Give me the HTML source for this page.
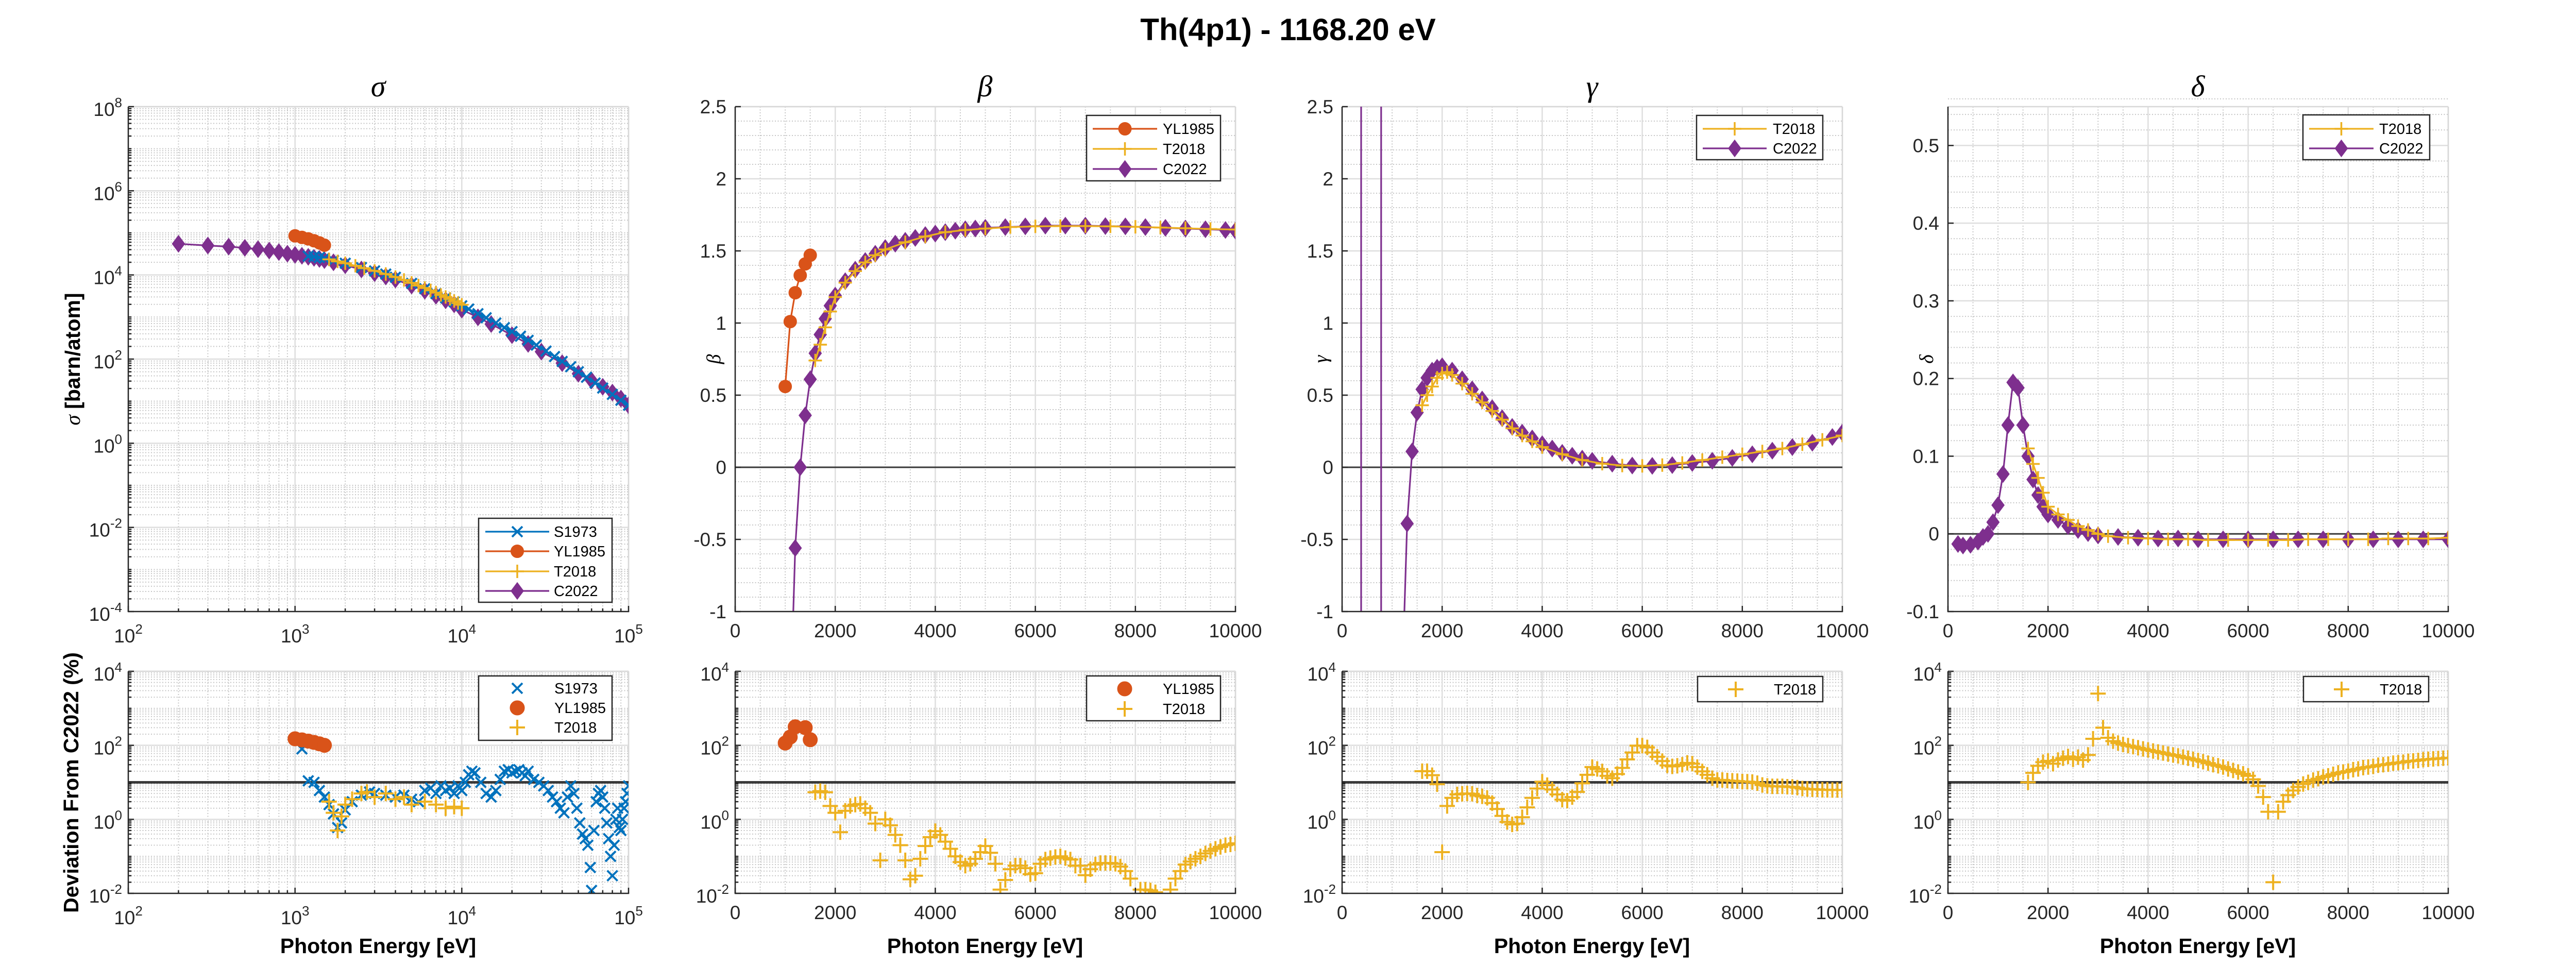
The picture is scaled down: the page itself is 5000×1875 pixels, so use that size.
<!DOCTYPE html>
<html>
<head>
<meta charset="utf-8">
<title>Th(4p1) - 1168.20 eV</title>
<style>
html,body{margin:0;padding:0;background:#fff;width:5000px;height:1875px;overflow:hidden;}
svg{display:block;font-family:"Liberation Sans",Arial,sans-serif;overflow:hidden;}
</style>
</head>
<body>
<svg id="chart" xmlns="http://www.w3.org/2000/svg" width="5000" height="1875" viewBox="0 0 5000 1875">
<rect x="0" y="0" width="5000" height="1875" fill="#ffffff"/>
<defs id="defs"></defs>
<text x="2500" y="78" text-anchor="middle" font-size="60" font-weight="bold" fill="#000">Th(4p1) - 1168.20 eV</text>
<text x="734" y="187" text-anchor="middle" font-size="58" font-style="italic" font-family="Liberation Serif, serif" fill="#000">σ</text>
<text x="1912" y="187" text-anchor="middle" font-size="58" font-style="italic" font-family="Liberation Serif, serif" fill="#000">β</text>
<text x="3090" y="187" text-anchor="middle" font-size="58" font-style="italic" font-family="Liberation Serif, serif" fill="#000">γ</text>
<text x="4266" y="187" text-anchor="middle" font-size="58" font-style="italic" font-family="Liberation Serif, serif" fill="#000">δ</text>
<text transform="translate(155,697) rotate(-90)" text-anchor="middle" font-size="41" font-weight="bold" fill="#000"><tspan font-style="italic" font-weight="normal" font-family="Liberation Serif, serif">σ</tspan> [barn/atom]</text>
<text transform="translate(152,1519) rotate(-90)" text-anchor="middle" font-size="41" font-weight="bold" fill="#000">Deviation From C2022 (%)</text>
<text transform="translate(1398,697) rotate(-90)" text-anchor="middle" font-size="38" font-style="italic" font-family="Liberation Serif, serif" fill="#000">β</text>
<text transform="translate(2576,697) rotate(-90)" text-anchor="middle" font-size="38" font-style="italic" font-family="Liberation Serif, serif" fill="#000">γ</text>
<text transform="translate(3752,697) rotate(-90)" text-anchor="middle" font-size="38" font-style="italic" font-family="Liberation Serif, serif" fill="#000">δ</text>
<text x="734" y="1850" text-anchor="middle" font-size="41" font-weight="bold" fill="#000">Photon Energy [eV]</text>
<text x="1912" y="1850" text-anchor="middle" font-size="41" font-weight="bold" fill="#000">Photon Energy [eV]</text>
<text x="3090" y="1850" text-anchor="middle" font-size="41" font-weight="bold" fill="#000">Photon Energy [eV]</text>
<text x="4266" y="1850" text-anchor="middle" font-size="41" font-weight="bold" fill="#000">Photon Energy [eV]</text>
</svg>
<script>
// ---------------- DATA ----------------
const sigE_S1973 = [1200,1300,1400,1500,1700,2000,2500,3000,3500,4000,5000,6000,7000,8000,9000,10000,11000,12500,14000,16000,18000,20000,22500,25000,28000,32000,36000,40000,45000,50000,56000,63000,70000,80000,90000,100000];
const sigV_S1973 = [28000,27000,26000,25000,22000,19000,15000,12500,10500,8800,6300,4700,3600,2850,2300,1850,1550,1200,960,720,560,450,350,280,215,155,115,88,66,50,37,27,20.5,14.5,10.5,8];
const sigE_YL1985 = [1000,1100,1200,1300,1400,1500];
const sigV_YL1985 = [85000,78000,72000,65000,58000,51000];
const sigE_T2018 = [1600,1800,2000,2300,2600,3000,3500,4000,4500,5000,5500,6000,6500,7000,7500,8000,8500,9000,9500,10000];
const sigV_T2018 = [23500,21000,19000,16500,14500,12500,10500,8900,7600,6500,5600,4900,4300,3800,3350,3000,2700,2400,2150,1950];
const sigE_C2022 = [200,300,400,500,600,700,800,900,1000,1100,1200,1300,1400,1500,1700,2000,2500,3000,3500,4000,5000,6000,7000,8000,9000,10000,12500,15000,20000,25000,30000,40000,50000,60000,70000,80000,90000,100000];
const sigV_C2022 = [55000,50000,47000,44000,41000,38000,35000,32000,30000,28500,27000,25500,24000,22500,20000,17000,13500,11000,9200,7800,5600,4200,3200,2500,2000,1500,980,680,370,230,150,80,45,31,22,16,11.5,8];
const dsigE_S1973 = [1100,1200,1300,1400,1500,1600,1700,1800,1900,2000,2200,2500,2800,3000,3500,4000,4500,5000,5500,6000,6500,7000,7500,8000,8500,9000,9500,10000,10500,11000,11500,12000,13000,14000,15000,16000,17000,18000,19000,20000,21000,22000,23000,24000,25000,27000,29000,31000,33000,35000,37000,39000,41000,43000,45000,47000,49000,51000,53000,55000,57000,59000,60000,62000,64000,66000,68000,70000,72000,74000,76000,78000,80000,82000,84000,86000,88000,90000,92000,94000,96000,98000,100000];
const dsigV_S1973 = [80,11,10,6,4,2.5,1.4,0.6,0.8,1.8,3,4.5,5.5,5,4.5,4,4.5,3.5,3,6,7,5,8,6,7,5,8,6,10,16,20,18,10,5,4,6,12,20,22,18,20,22,18,15,20,12,10,8,6,4,3,2,1.5,4,8,5,2,0.8,0.4,0.3,0.2,0.05,0.012,0.5,3,5,6,4,2,0.8,0.3,0.1,0.03,0.2,1,2,0.6,0.5,1,2,3,5,8];
const dsigE_YL1985 = [1000,1100,1200,1300,1400,1500];
const dsigV_YL1985 = [150,140,130,120,110,100];
const dsigE_T2018 = [1600,1700,1800,1900,2000,2200,2500,2700,3000,3500,4000,4500,5000,6000,7000,8000,9000,10000];
const dsigV_T2018 = [3,1.5,0.5,1.2,2.5,3.5,5,5.5,4,5,3.5,4,2.5,3,2.5,2,2.2,2];
const betE_YL1985 = [1000,1100,1200,1300,1400,1500];
const betV_YL1985 = [0.56,1.01,1.21,1.33,1.41,1.47];
const betE_T2018 = [1600,1700,1800,1900,2000,2200,2400,2600,2800,3000,3400,3800,4200,4600,5000,5500,6000,6500,7000,7500,8000,8500,9000,9500,10000];
const betV_T2018 = [0.74,0.85,0.97,1.08,1.18,1.28,1.36,1.42,1.47,1.51,1.56,1.60,1.63,1.645,1.655,1.665,1.67,1.672,1.672,1.67,1.667,1.662,1.657,1.652,1.648];
const betE_C2022 = [1100,1200,1300,1400,1500,1600,1700,1800,1900,2000,2200,2400,2600,2800,3000,3200,3400,3600,3800,4000,4200,4400,4600,4800,5000,5400,5800,6200,6600,7000,7400,7800,8200,8600,9000,9400,9800,10000];
const betV_C2022 = [-1.7,-0.56,0,0.36,0.61,0.79,0.92,1.03,1.12,1.19,1.29,1.37,1.43,1.48,1.52,1.55,1.57,1.59,1.61,1.62,1.63,1.64,1.65,1.655,1.66,1.665,1.67,1.675,1.675,1.675,1.672,1.67,1.665,1.66,1.655,1.65,1.645,1.64];
const dbetE_YL1985 = [1000,1100,1200,1400,1500];
const dbetV_YL1985 = [115,167,316,300,142];
const dbetE_T2018 = [1600,1700,1800,1900,2000,2100,2200,2300,2400,2500,2600,2700,2800,2900,3000,3100,3200,3300,3400,3500,3600,3700,3800,3900,4000,4100,4200,4300,4400,4500,4600,4700,4800,4900,5000,5100,5200,5300,5400,5500,5600,5700,5800,5900,6000,6100,6200,6300,6400,6500,6600,6700,6800,6900,7000,7100,7200,7300,7400,7500,7600,7700,7800,7900,8100,8200,8300,8400,8700,8800,8900,9000,9100,9200,9300,9400,9500,9600,9700,9800,9900,10000];
const dbetV_T2018 = [5.4,5.8,5.4,2.3,1.5,0.45,1.7,2.3,2.5,2.6,2.0,1.5,0.77,0.078,1.0,0.69,0.38,0.2,0.078,0.024,0.03,0.086,0.19,0.33,0.48,0.38,0.25,0.16,0.1,0.07,0.056,0.063,0.086,0.13,0.19,0.125,0.063,0.0126,0.023,0.045,0.056,0.056,0.048,0.033,0.035,0.063,0.082,0.09,0.096,0.1,0.09,0.082,0.056,0.056,0.031,0.045,0.06,0.066,0.066,0.066,0.063,0.053,0.04,0.025,0.0126,0.0126,0.012,0.0107,0.0126,0.025,0.04,0.06,0.072,0.086,0.1,0.12,0.14,0.16,0.18,0.2,0.21,0.225];
const gamE_T2018 = [1600,1700,1800,1900,2000,2100,2200,2400,2600,2800,3000,3200,3400,3600,3800,4000,4400,4800,5200,5600,6000,6400,6800,7200,7600,8000,8400,8800,9200,9600,10000];
const gamV_T2018 = [0.43,0.50,0.56,0.62,0.65,0.66,0.64,0.58,0.51,0.45,0.39,0.33,0.27,0.22,0.18,0.14,0.09,0.05,0.025,0.012,0.01,0.015,0.03,0.05,0.07,0.09,0.11,0.13,0.16,0.19,0.22];
const gamE_C2022 = [380,381,780,781,1200,1300,1400,1500,1600,1700,1800,1900,2000,2200,2400,2600,2800,3000,3200,3400,3600,3800,4000,4200,4400,4600,4800,5000,5400,5800,6200,6600,7000,7400,7800,8200,8600,9000,9400,9800,10000];
const gamV_C2022 = [-100000,100000,100000,-100000,-1.5,-0.39,0.11,0.38,0.54,0.62,0.67,0.69,0.70,0.67,0.61,0.54,0.47,0.41,0.34,0.28,0.24,0.2,0.16,0.13,0.1,0.08,0.06,0.045,0.025,0.012,0.01,0.015,0.03,0.045,0.065,0.09,0.115,0.14,0.17,0.21,0.24];
const dgamE_T2018 = [1600,1700,1800,1900,2000,2100,2200,2300,2400,2500,2600,2700,2800,2900,3000,3100,3200,3300,3400,3500,3600,3700,3800,3900,4000,4100,4200,4300,4400,4500,4600,4700,4800,4900,5000,5100,5200,5300,5400,5500,5600,5700,5800,5900,6000,6100,6200,6300,6400,6500,6600,6700,6800,6900,7000,7100,7200,7300,7400,7500,7600,7700,7800,7900,8000,8100,8200,8300,8400,8500,8600,8700,8800,8900,9000,9100,9200,9300,9400,9500,9600,9700,9800,9900,10000];
const dgamV_T2018 = [20,20,15.6,8.9,0.13,2.3,3.8,4.7,4.9,5.0,4.9,4.4,4.2,3.8,2.75,1.9,1.24,0.85,0.73,0.77,1.14,2.1,3.8,6.8,10.4,8.4,6.4,4.7,3.4,3.2,4.0,5.5,9.4,16,25.8,23,19.8,15,13,16.8,24.5,41.7,64,98,98,88,64,49,37.5,28.7,27,28,30,33.6,32,25.8,19.8,16,12.9,11.6,11.6,11.2,11,10.8,10.5,10.4,10.2,9.5,8.5,8,7.8,7.8,7.8,7.6,7.5,7.2,6.8,6.6,6.5,6.4,6.3,6.25,6.2,6.2,6.2];
const delE_T2018 = [1600,1700,1800,1900,2000,2200,2400,2600,2800,3000,3200,3600,4000,4400,4800,5200,5600,6000,6400,6800,7200,7600,8000,8400,8800,9200,9600,10000];
const delV_T2018 = [0.11,0.09,0.072,0.053,0.035,0.025,0.018,0.01,0.005,0.0,-0.003,-0.005,-0.006,-0.007,-0.007,-0.008,-0.008,-0.008,-0.008,-0.008,-0.007,-0.007,-0.007,-0.007,-0.006,-0.006,-0.006,-0.005];
const delE_C2022 = [200,300,450,600,700,800,900,1000,1100,1200,1300,1400,1500,1600,1700,1800,1900,2000,2200,2400,2600,2800,3000,3400,3800,4200,4600,5000,5500,6000,6500,7000,7500,8000,8500,9000,9500,10000];
const delV_C2022 = [-0.013,-0.015,-0.014,-0.01,-0.004,0.0,0.015,0.037,0.077,0.14,0.195,0.188,0.14,0.10,0.07,0.05,0.035,0.025,0.018,0.01,0.005,0.001,-0.002,-0.004,-0.005,-0.006,-0.006,-0.007,-0.007,-0.007,-0.007,-0.007,-0.007,-0.007,-0.007,-0.007,-0.007,-0.007];
const ddelE_T2018 = [1600,1700,1800,1900,2000,2100,2200,2300,2400,2500,2600,2700,2800,2900,3000,3100,3200,3300,3400,3500,3600,3700,3800,3900,4000,4100,4200,4300,4400,4500,4600,4700,4800,4900,5000,5100,5200,5300,5400,5500,5600,5700,5800,5900,6000,6100,6200,6300,6400,6500,6600,6700,6800,6900,7000,7100,7200,7300,7400,7500,7600,7700,7800,7900,8000,8100,8200,8300,8400,8500,8600,8700,8800,8900,9000,9100,9200,9300,9400,9500,9600,9700,9800,9900,10000];
const ddelV_T2018 = [10,18,28,35,38,32,40,45,50,42,48,40,55,150,2500,300,160,130,115,105,98,92,86,80,75,70,66,62,58,55,52,48,45,42,39,36,33,30,28,26,23,21,19,17,15,12,8,4,1.6,0.02,1.6,3,4.5,6,7.5,9,10,11.5,12.5,14,15,16.5,18,19,20,22,23,25,26,27,29,30,31,33,34,35,37,38,39,41,42,43,44,45,46];
const logXTicks = [100,1000,10000,100000];
const logXTickExp = ['2','3','4','5'];
const sigYTicks = [1e-4,1e-2,1,1e2,1e4,1e6,1e8];
const sigYTickExp = ['-4','-2','0','2','4','6','8'];
const devYTicks = [1e-2,1,1e2,1e4];
const devYTickExp = ['-2','0','2','4'];
const linXTicks = [0,2000,4000,6000,8000,10000];
const linXTickLabels = ['0','2000','4000','6000','8000','10000'];
const bgYTicks = [-1,-0.5,0,0.5,1,1.5,2,2.5];
const bgYTickLabels = ['-1','-0.5','0','0.5','1','1.5','2','2.5'];
const dYTicks = [-0.1,0,0.1,0.2,0.3,0.4,0.5];
const dYTickLabels = ['-0.1','0','0.1','0.2','0.3','0.4','0.5'];

// ---------------- DRAWING ----------------
const NS = 'http://www.w3.org/2000/svg';
const svg = document.getElementById('chart');
const defs = document.getElementById('defs');
const COL = {S:'#0072BD', YL:'#D95319', T:'#EDB120', C:'#7E2F8E'};
const AX = '#262626', GMAJ = '#dedede', GMIN = '#c4c4c4';
const PW = 971;

function el(tag, attrs, parent) {
  const e = document.createElementNS(NS, tag);
  for (const k in attrs) e.setAttribute(k, attrs[k]);
  (parent || svg).appendChild(e);
  return e;
}
function near(a, b) { return Math.abs(a - b) <= 1e-9 * Math.max(1, Math.abs(a), Math.abs(b)); }

function makeAxes(o) {
  const L = o.left, T = o.top, B = o.bottom, R = L + PW;
  const fx = o.xlog ? Math.log10 : (v => v);
  const fy = o.ylog ? Math.log10 : (v => v);
  const sx = v => L + (fx(v) - fx(o.x0)) / (fx(o.x1) - fx(o.x0)) * PW;
  const sy = v => B - (fy(v) - fy(o.y0)) / (fy(o.y1) - fy(o.y0)) * (B - T);
  const g = el('g', {});
  
  
  function minors(log, a, b, step, majors) {
    const out = [];
    if (log) {
      for (let d = Math.floor(Math.log10(a)); d < Math.log10(b); d++) {
        for (let k = 1; k <= 9; k++) {
          const v = k * Math.pow(10, d);
          if (v < a * 0.999 || v > b * 1.001) continue;
          if (majors.some(m => near(m, v))) continue;
          out.push(v);
        }
      }
    } else {
      const n = Math.round((b - a) / step);
      for (let i = 0; i <= n; i++) {
        const v = a + i * step;
        if (majors.some(m => near(m, v))) continue;
        out.push(v);
      }
    }
    return out;
  }
  const xmin = minors(o.xlog, o.x0, o.x1, o.xminor, o.xticks);
  const ymin = minors(o.ylog, o.y0, o.y1, o.yminor, o.yticks);
  xmin.forEach(v => {
    const l = el('line', {x1: sx(v), x2: sx(v), y1: T, y2: B, stroke: GMIN, 'stroke-width': 2, 'stroke-dasharray': '2,3.5'}, g);
    
    
  });
  ymin.forEach(v => {
    const l = el('line', {x1: L, x2: R, y1: sy(v), y2: sy(v), stroke: GMIN, 'stroke-width': 2, 'stroke-dasharray': '2,3.5'}, g);
    
    
  });
  o.xticks.forEach(v => {
    const l = el('line', {x1: sx(v), x2: sx(v), y1: T, y2: B, stroke: GMAJ, 'stroke-width': 2.5}, g);
    
    
  });
  o.yticks.forEach(v => {
    const l = el('line', {x1: L, x2: R, y1: sy(v), y2: sy(v), stroke: GMAJ, 'stroke-width': 2.5}, g);
    
    
  });
  const tb = el('line', {x1: L, x2: R, y1: T, y2: T, stroke: '#d8d8d8', 'stroke-width': 2.5}, g);
  
  
  const rb = el('line', {x1: R, x2: R, y1: T, y2: B, stroke: '#d8d8d8', 'stroke-width': 2.5}, g);
  
  
  const cp = el('clipPath', {id: 'clip-' + o.name}, defs);
  el('rect', {x: L, y: T, width: PW, height: B - T}, cp);
  const dg = el('g', {'clip-path': 'url(#clip-' + o.name + ')'});
  
  
  return {sx, sy, g, dg, L, R, T, B, o};
}

function finishAxes(a) {
  const o = a.o, L = a.L, R = a.R, T = a.T, B = a.B;
  const g = el('g', {});
  
  
  if (o.xlog) {
    for (let d = Math.floor(Math.log10(o.x0)); d < Math.log10(o.x1); d++) for (let k = 2; k <= 9; k++) {
      const v = k * Math.pow(10, d);
      const t = el('line', {x1: a.sx(v), x2: a.sx(v), y1: B, y2: B - 6, stroke: AX, 'stroke-width': 2.5}, g);
      
      
    }
  }
  if (o.ylog) {
    for (let d = Math.floor(Math.log10(o.y0)); d < Math.log10(o.y1); d++) for (let k = 2; k <= 10; k++) {
      const v = k * Math.pow(10, d);
      if (o.yticks.some(m => near(m, v))) continue;
      const t = el('line', {x1: L, x2: L + 6, y1: a.sy(v), y2: a.sy(v), stroke: AX, 'stroke-width': 2.5}, g);
      
      
    }
  }
  o.xticks.forEach(v => {
    const t = el('line', {x1: a.sx(v), x2: a.sx(v), y1: B, y2: B - 11, stroke: AX, 'stroke-width': 2.5}, g);
    
    
  });
  o.yticks.forEach(v => {
    const t = el('line', {x1: L, x2: L + 11, y1: a.sy(v), y2: a.sy(v), stroke: AX, 'stroke-width': 2.5}, g);
    
    
  });
  const xa = el('line', {x1: L - 1.25, x2: R + 1.25, y1: B, y2: B, stroke: AX, 'stroke-width': 2.5}, g);
  
  
  const ya = el('line', {x1: L, x2: L, y1: T, y2: B, stroke: AX, 'stroke-width': 2.5}, g);
  
  
  o.xticks.forEach((v, i) => {
    let t;
    if (o.xlog) {
      t = el('text', {x: a.sx(v), y: B + 60, 'text-anchor': 'middle', 'font-size': 37, fill: AX}, g);
      t.textContent = '10';
      const s = el('tspan', {dy: -17, 'font-size': 26}, t);
      s.textContent = o.xlab[i];
    } else {
      t = el('text', {x: a.sx(v), y: B + 50, 'text-anchor': 'middle', 'font-size': 37, fill: AX}, g);
      t.textContent = o.xlab[i];
    }
    
    
  });
  o.yticks.forEach((v, i) => {
    let t;
    if (o.ylog) {
      t = el('text', {x: L - 12, y: a.sy(v) + 18, 'text-anchor': 'end', 'font-size': 37, fill: AX}, g);
      const b = el('tspan', {}, t);
      b.textContent = '10';
      const s = el('tspan', {dy: -17, 'font-size': 26}, t);
      s.textContent = o.ylab[i];
    } else {
      t = el('text', {x: L - 17, y: a.sy(v) + 13, 'text-anchor': 'end', 'font-size': 37, fill: AX}, g);
      t.textContent = o.ylab[i];
    }
    
    
  });
}

function marker(parent, type, x, y, color, big) {
  let m;
  if (type === 'd') {
    const w = 12, h = 16;
    m = el('polygon', {points: `${x},${y - h} ${x + w},${y} ${x},${y + h} ${x - w},${y}`, fill: color, stroke: color, 'stroke-width': 1.5}, parent);
  } else if (type === 'o') {
    m = el('circle', {cx: x, cy: y, r: big ? 14 : 12.5, fill: color, stroke: color, 'stroke-width': 1}, parent);
  } else if (type === '+') {
    const s = big ? 15 : 13;
    m = el('path', {d: `M${x - s},${y}H${x + s}M${x},${y - s}V${y + s}`, stroke: color, 'stroke-width': big ? 4 : 3.5, fill: 'none'}, parent);
  } else {
    const s = 10;
    m = el('path', {d: `M${x - s},${y - s}L${x + s},${y + s}M${x - s},${y + s}L${x + s},${y - s}`, stroke: color, 'stroke-width': 4, fill: 'none'}, parent);
  }
  return m;
}

// clip a segment to y in [ylo, yhi]; returns null or [x1,y1,x2,y2]
function clipSeg(x1, y1, x2, y2, ylo, yhi) {
  let t0 = 0, t1 = 1;
  const dy = y2 - y1;
  if (Math.abs(dy) < 1e-12) {
    if (y1 < ylo || y1 > yhi) return null;
  } else {
    let ta = (ylo - y1) / dy, tb = (yhi - y1) / dy;
    if (ta > tb) { const tmp = ta; ta = tb; tb = tmp; }
    t0 = Math.max(t0, ta); t1 = Math.min(t1, tb);
    if (t0 > t1) return null;
  }
  return [x1 + (x2 - x1) * t0, y1 + dy * t0, x1 + (x2 - x1) * t1, y1 + dy * t1];
}

function series(a, E, V, color, mk, withLine, big, name) {
  const g = el('g', {}, a.dg);
  
  
  const n = Math.min(E.length, V.length);
  const pts = [];
  for (let i = 0; i < n; i++) {
    if (a.o.ylog && V[i] <= 0) continue;
    pts.push([a.sx(E[i]), a.sy(V[i])]);
  }
  if (withLine) {
    let d = '', lx = null, ly = null;
    for (let i = 0; i + 1 < pts.length; i++) {
      const s = clipSeg(pts[i][0], pts[i][1], pts[i + 1][0], pts[i + 1][1], a.T - 20, a.B + 20);
      if (!s) continue;
      if (lx === null || Math.abs(lx - s[0]) > 0.01 || Math.abs(ly - s[1]) > 0.01) d += 'M' + s[0].toFixed(2) + ',' + s[1].toFixed(2);
      d += 'L' + s[2].toFixed(2) + ',' + s[3].toFixed(2);
      lx = s[2]; ly = s[3];
    }
    const pl = el('path', {d: d, fill: 'none', stroke: color, 'stroke-width': 3.2, 'stroke-linejoin': 'round'}, g);
    
    
  }
  pts.forEach(p => {
    if (p[1] < a.T - 20 || p[1] > a.B + 20) return;
    const m = marker(g, mk, p[0], p[1], color, big);
    
    
  });
}

function refLine(a, v, w, name) {
  const l = el('line', {x1: a.L, x2: a.R, y1: a.sy(v), y2: a.sy(v), stroke: '#262626', 'stroke-width': w, 'stroke-opacity': 0.9}, a.dg);
  
  
}

function legend(box, rows, withLine, big, name) {
  const g = el('g', {});
  
  
  const r = el('rect', {x: box[0], y: box[1], width: box[2] - box[0], height: box[3] - box[1], fill: '#fff', stroke: '#262626', 'stroke-width': 2.5}, g);
  
  
  rows.forEach(rw => {
    const eg = el('g', {}, g);
    
    
    if (withLine) {
      const l = el('line', {x1: rw.lx0, x2: rw.lx1, y1: rw.y, y2: rw.y, stroke: rw.color, 'stroke-width': 3.2}, eg);
      
      
    }
    const m = marker(eg, rw.mk, (rw.lx0 + rw.lx1) / 2, rw.y, rw.color, big);
    
    
    const t = el('text', {x: rw.tx, y: rw.y + 10, 'font-size': 29, fill: '#000'}, eg);
    t.textContent = rw.label;
    
    
  });
}

const LEFTS = [249, 1427, 2605, 3781];
const TT = 207, TB = 1187, BT = 1303, BB = 1734;

const a1 = makeAxes({name: 'sigma', left: LEFTS[0], top: TT, bottom: TB, xlog: true, x0: 100, x1: 100000, ylog: true, y0: 1e-4, y1: 1e8,
  xticks: logXTicks, xlab: logXTickExp, yticks: sigYTicks, ylab: sigYTickExp});
series(a1, sigE_C2022, sigV_C2022, COL.C, 'd', true, false, 'sigma-c2022');
series(a1, sigE_S1973, sigV_S1973, COL.S, 'x', true, false, 'sigma-s1973');
series(a1, sigE_T2018, sigV_T2018, COL.T, '+', true, false, 'sigma-t2018');
series(a1, sigE_YL1985, sigV_YL1985, COL.YL, 'o', true, false, 'sigma-yl1985');
finishAxes(a1);
legend([929, 1006, 1188, 1169], [
  {label: 'S1973', color: COL.S, mk: 'x', y: 1032, lx0: 942, lx1: 1066, tx: 1075},
  {label: 'YL1985', color: COL.YL, mk: 'o', y: 1070, lx0: 942, lx1: 1066, tx: 1075},
  {label: 'T2018', color: COL.T, mk: '+', y: 1109, lx0: 942, lx1: 1066, tx: 1075},
  {label: 'C2022', color: COL.C, mk: 'd', y: 1147, lx0: 942, lx1: 1066, tx: 1075}], true, false, 'sigma-legend');

const b1 = makeAxes({name: 'sigma-deviation', left: LEFTS[0], top: BT, bottom: BB, xlog: true, x0: 100, x1: 100000, ylog: true, y0: 1e-2, y1: 1e4,
  xticks: logXTicks, xlab: logXTickExp, yticks: devYTicks, ylab: devYTickExp});
refLine(b1, 10, 5, 'reference-line-10pct');
series(b1, dsigE_S1973, dsigV_S1973, COL.S, 'x', false, true, 'sigma-dev-s1973');
series(b1, dsigE_YL1985, dsigV_YL1985, COL.YL, 'o', false, true, 'sigma-dev-yl1985');
series(b1, dsigE_T2018, dsigV_T2018, COL.T, '+', false, true, 'sigma-dev-t2018');
finishAxes(b1);
legend([929, 1312, 1188, 1437], [
  {label: 'S1973', color: COL.S, mk: 'x', y: 1336, lx0: 944, lx1: 1064, tx: 1076},
  {label: 'YL1985', color: COL.YL, mk: 'o', y: 1374, lx0: 944, lx1: 1064, tx: 1076},
  {label: 'T2018', color: COL.T, mk: '+', y: 1412, lx0: 944, lx1: 1064, tx: 1076}], false, true, 'sigma-deviation-legend');

const a2 = makeAxes({name: 'beta', left: LEFTS[1], top: TT, bottom: TB, xlog: false, x0: 0, x1: 10000, xminor: 500, ylog: false, y0: -1, y1: 2.5, yminor: 0.1,
  xticks: linXTicks, xlab: linXTickLabels, yticks: bgYTicks, ylab: bgYTickLabels});
refLine(a2, 0, 3, 'zero-line');
series(a2, betE_C2022, betV_C2022, COL.C, 'd', true, false, 'beta-c2022');
series(a2, betE_T2018, betV_T2018, COL.T, '+', true, false, 'beta-t2018');
series(a2, betE_YL1985, betV_YL1985, COL.YL, 'o', true, false, 'beta-yl1985');
finishAxes(a2);
legend([2109, 224, 2369, 351], [
  {label: 'YL1985', color: COL.YL, mk: 'o', y: 250, lx0: 2121, lx1: 2246, tx: 2257},
  {label: 'T2018', color: COL.T, mk: '+', y: 289, lx0: 2121, lx1: 2246, tx: 2257},
  {label: 'C2022', color: COL.C, mk: 'd', y: 328, lx0: 2121, lx1: 2246, tx: 2257}], true, false, 'beta-legend');

const b2 = makeAxes({name: 'beta-deviation', left: LEFTS[1], top: BT, bottom: BB, xlog: false, x0: 0, x1: 10000, xminor: 500, ylog: true, y0: 1e-2, y1: 1e4,
  xticks: linXTicks, xlab: linXTickLabels, yticks: devYTicks, ylab: devYTickExp});
refLine(b2, 10, 5, 'reference-line-10pct');
series(b2, dbetE_YL1985, dbetV_YL1985, COL.YL, 'o', false, true, 'beta-dev-yl1985');
series(b2, dbetE_T2018, dbetV_T2018, COL.T, '+', false, true, 'beta-dev-t2018');
finishAxes(b2);
legend([2109, 1312, 2369, 1399], [
  {label: 'YL1985', color: COL.YL, mk: 'o', y: 1337, lx0: 2123, lx1: 2243, tx: 2257},
  {label: 'T2018', color: COL.T, mk: '+', y: 1376, lx0: 2123, lx1: 2243, tx: 2257}], false, true, 'beta-deviation-legend');

const a3 = makeAxes({name: 'gamma', left: LEFTS[2], top: TT, bottom: TB, xlog: false, x0: 0, x1: 10000, xminor: 500, ylog: false, y0: -1, y1: 2.5, yminor: 0.1,
  xticks: linXTicks, xlab: linXTickLabels, yticks: bgYTicks, ylab: bgYTickLabels});
refLine(a3, 0, 3, 'zero-line');
series(a3, gamE_C2022, gamV_C2022, COL.C, 'd', true, false, 'gamma-c2022');
series(a3, gamE_T2018, gamV_T2018, COL.T, '+', true, false, 'gamma-t2018');
finishAxes(a3);
legend([3293, 224, 3538, 310], [
  {label: 'T2018', color: COL.T, mk: '+', y: 250, lx0: 3305, lx1: 3429, tx: 3441},
  {label: 'C2022', color: COL.C, mk: 'd', y: 288, lx0: 3305, lx1: 3429, tx: 3441}], true, false, 'gamma-legend');

const b3 = makeAxes({name: 'gamma-deviation', left: LEFTS[2], top: BT, bottom: BB, xlog: false, x0: 0, x1: 10000, xminor: 500, ylog: true, y0: 1e-2, y1: 1e4,
  xticks: linXTicks, xlab: linXTickLabels, yticks: devYTicks, ylab: devYTickExp});
refLine(b3, 10, 5, 'reference-line-10pct');
series(b3, dgamE_T2018, dgamV_T2018, COL.T, '+', false, true, 'gamma-dev-t2018');
finishAxes(b3);
legend([3295, 1313, 3538, 1362], [
  {label: 'T2018', color: COL.T, mk: '+', y: 1338, lx0: 3309, lx1: 3429, tx: 3443}], false, true, 'gamma-deviation-legend');

const a4 = makeAxes({name: 'delta', left: LEFTS[3], top: TT, bottom: TB, xlog: false, x0: 0, x1: 10000, xminor: 500, ylog: false, y0: -0.1, y1: 0.55, yminor: 0.02,
  xticks: linXTicks, xlab: linXTickLabels, yticks: dYTicks, ylab: dYTickLabels});
refLine(a4, 0, 3, 'zero-line');
series(a4, delE_C2022, delV_C2022, COL.C, 'd', true, false, 'delta-c2022');
series(a4, delE_T2018, delV_T2018, COL.T, '+', true, false, 'delta-t2018');
finishAxes(a4);
legend([4470, 223, 4716, 310], [
  {label: 'T2018', color: COL.T, mk: '+', y: 250, lx0: 4482, lx1: 4607, tx: 4618},
  {label: 'C2022', color: COL.C, mk: 'd', y: 288, lx0: 4482, lx1: 4607, tx: 4618}], true, false, 'delta-legend');

const b4 = makeAxes({name: 'delta-deviation', left: LEFTS[3], top: BT, bottom: BB, xlog: false, x0: 0, x1: 10000, xminor: 500, ylog: true, y0: 1e-2, y1: 1e4,
  xticks: linXTicks, xlab: linXTickLabels, yticks: devYTicks, ylab: devYTickExp});
refLine(b4, 10, 5, 'reference-line-10pct');
series(b4, ddelE_T2018, ddelV_T2018, COL.T, '+', false, true, 'delta-dev-t2018');
finishAxes(b4);
legend([4471, 1313, 4714, 1362], [
  {label: 'T2018', color: COL.T, mk: '+', y: 1338, lx0: 4485, lx1: 4605, tx: 4619}], false, true, 'delta-deviation-legend');
</script>
</body>
</html>
